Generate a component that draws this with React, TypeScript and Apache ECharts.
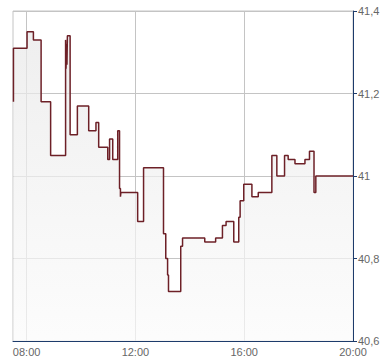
import React, { useEffect, useRef } from "react";
import * as echarts from "echarts";

const times: string[] = [
  "07:31", "07:31", "08:01", "08:15", "08:32", "08:53",
  "09:26", "09:27", "09:28", "09:29", "09:30", "09:36", "09:52",
  "10:17", "10:33", "10:39", "10:59", "11:03", "11:10", "11:21",
  "11:25", "11:27", "11:28", "12:05", "12:18", "13:02", "13:07",
  "13:11", "13:13", "13:40", "13:44", "14:33", "14:57", "15:12",
  "15:20", "15:37", "15:48", "15:51", "15:59", "16:17", "16:31",
  "17:01", "17:12", "17:29", "17:37", "17:52", "18:14", "18:24",
  "18:34", "18:38", "20:00",
];

const prices: number[] = [
  41.18, 41.31, 41.35, 41.33, 41.18, 41.05,
  41.33, 41.26, 41.32, 41.27, 41.34, 41.1, 41.17,
  41.11, 41.13, 41.07, 41.04, 41.09, 41.04, 41.11,
  40.97, 40.95, 40.96, 40.89, 41.02, 40.86, 40.8,
  40.76, 40.72, 40.83, 40.85, 40.84, 40.85, 40.88,
  40.89, 40.84, 40.9, 40.94, 40.98, 40.95, 40.96,
  41.05, 41.0, 41.05, 41.04, 41.03, 41.04, 41.06,
  40.96, 41.0, 41.0,
];

const xTickHours: number[] = [8, 12, 16, 20];
const yMin = 40.6;
const yMax = 41.4;
const yStep = 0.2;

const toHours = (t: string) => {
  const [h, m] = t.split(":").map(Number);
  return h + m / 60;
};

export default function App() {
  const ref = useRef<HTMLDivElement>(null);

  useEffect(() => {
    if (!ref.current) return;
    const chart = echarts.init(ref.current, undefined, { renderer: "svg" });
    const data = times.map((t, i) => [toHours(t), prices[i]]);
    const navy = "#1d3b6b";
    const gridColor = "#c4c4c4";
    const labelColor = "#666";
    chart.setOption({
      animation: false,
      backgroundColor: "#fff",
      grid: {
        left: 13,
        right: 37,
        top: 11,
        bottom: 23,
        show: true,
        borderColor: gridColor,
        borderWidth: 1,
        containLabel: false,
      },
      xAxis: {
        type: "value",
        min: 7.5,
        max: 20,
        axisLine: { show: true, onZero: false, lineStyle: { color: navy, width: 1 } },
        axisTick: { show: false, customValues: xTickHours },
        axisLabel: {
          customValues: xTickHours,
          margin: 5,
          color: labelColor,
          fontSize: 11,
          fontFamily: "Liberation Sans, Arial, sans-serif",
          formatter: (v: number) => `${String(Math.round(v)).padStart(2, "0")}:00`,
        },
        splitLine: { show: true, lineStyle: { color: gridColor, width: 1 } },
      },
      yAxis: {
        type: "value",
        position: "right",
        min: yMin,
        max: yMax,
        interval: yStep,
        axisLine: { show: true, lineStyle: { color: navy, width: 1 } },
        axisTick: { show: true, length: 4, lineStyle: { color: navy } },
        axisLabel: {
          margin: 5,
          color: labelColor,
          fontSize: 11,
          fontFamily: "Liberation Sans, Arial, sans-serif",
          formatter: (v: number) => String(Number(v.toFixed(1))).replace(".", ","),
        },
        splitLine: { show: true, lineStyle: { color: gridColor, width: 1 } },
      },
      series: [
        {
          type: "line",
          step: "end",
          data,
          showSymbol: false,
          symbol: "none",
          lineStyle: { color: "#6d2027", width: 1.5 },
          areaStyle: {
            origin: "start",
            color: new echarts.graphic.LinearGradient(0, 0, 0, 1, [
              { offset: 0, color: "#e8e8e8" },
              { offset: 1, color: "#fbfbfb" },
            ]),
          },
          z: 3,
        },
      ],
    });
    return () => chart.dispose();
  }, []);

  return <div ref={ref} style={{ width: 390, height: 364, position: "absolute", left: 0, top: 0 }} />;
}
